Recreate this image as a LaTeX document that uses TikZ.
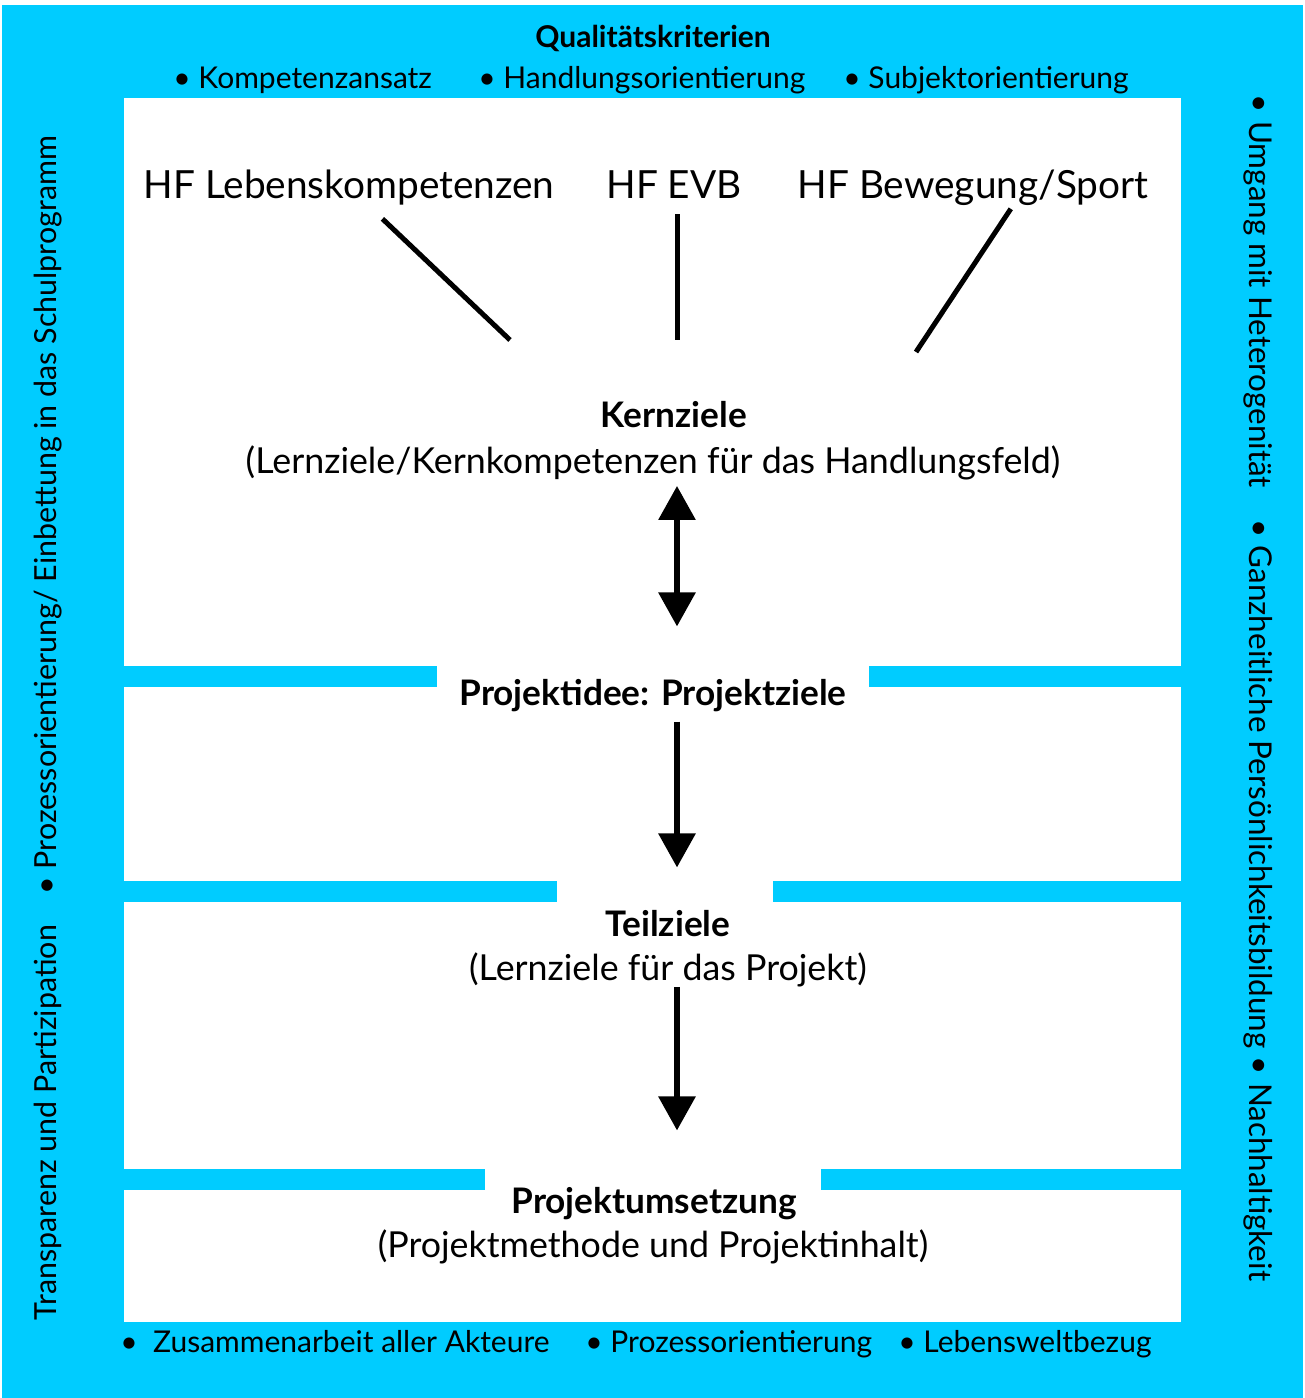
\documentclass[tikz,border=0pt]{standalone}
\usepackage{fontspec}
\setmainfont{Lato}
\usetikzlibrary{arrows.meta,positioning}
\definecolor{frame}{HTML}{00CCFF}
\tikzstyle{band}  =[fill=frame, draw=none]
\tikzstyle{hf}    =[font=\fontsize{19.4}{23}\selectfont, inner sep=0pt]
\tikzstyle{goal}  =[font=\fontsize{17.6}{21}\selectfont\bfseries, inner sep=0pt]
\tikzstyle{note}  =[font=\fontsize{17.9}{21}\selectfont, inner sep=0pt]
\tikzstyle{crit}  =[font=\fontsize{15}{18}\selectfont, inner sep=0pt]
\tikzstyle{link}  =[line width=2.5pt]
\tikzstyle{flow}  =[line width=3pt, -{Triangle[width=18pt,length=17pt]}]

\begin{document}
\begin{tikzpicture}[x=0.5pt, y=-0.5pt]
    \useasboundingbox (0,0) rectangle (1305,1398);
    \fill[white] (0,0) rectangle (1305,1398);
    \fill[band] (2,5) rectangle (1303,1398);
    \fill[white] (124,98) rectangle (1181,1322);
    % cut-through bands
    \foreach \y/\a/\b in {666/437/869, 881/557/773, 1169/485/821}{
        \fill[band] (124,\y) rectangle (\a,\y+21);
        \fill[band] (\b,\y) rectangle (1181,\y+21);
    }

    % frame texts
    \node[crit, font=\fontsize{15}{18}\selectfont\bfseries, anchor=base] (qk) at (653,47) {Qualitätskriterien};
    \node[crit, anchor=base west] (q1) at (173,88) {• Kompetenzansatz};
    \node[crit, anchor=base west] (q2) at (478,88) {• Handlungsorientierung};
    \node[crit, anchor=base west] (q3) at (843,88) {• Subjektorientierung};
    \node[crit, anchor=base west] (b1) at (120,1352) {•\ \ Zusammenarbeit aller Akteure};
    \node[crit, anchor=base west] (b2) at (585,1352) {• Prozessorientierung};
    \node[crit, anchor=base west] (b3) at (898,1352) {• Lebensweltbezug};
    \node[crit, font=\fontsize{15.2}{18}\selectfont, rotate=90] (left) at (48,728)
        {Transparenz und Partizipation\quad • Prozessorientierung/ Einbettung in das Schulprogramm};
    \node[crit, font=\fontsize{15.7}{18}\selectfont, rotate=-90] (right) at (1258,688)
        {• Umgang mit Heterogenität\quad • Ganzheitliche Persönlichkeitsbildung • Nachhaltigkeit};

    % fields of action
    \node[hf, anchor=base] (hfl) at (349,198) {HF Lebenskompetenzen};
    \node[hf, anchor=base] (hfe) at (674,198) {HF EVB};
    \node[hf, anchor=base] (hfb) at (973,198) {HF Bewegung/Sport};

    \coordinate (l1) at (510,340);
    \coordinate (l2) at (677,340);
    \coordinate (l3) at (916,352);
    \coordinate (ax) at (677,0);

    \draw[link, shorten <=10pt] (hfl) -- (l1);
    \draw[link, shorten <=8pt] (hfe.south -| l2) -- (l2);
    \draw[link, shorten <=2pt] ([xshift=20pt]hfb.south) -- (l3);

    % goals
    \node[goal, anchor=base] (kz) at (674,427) {Kernziele};
    \node[note, anchor=base] (kzs) at (653,473) {(Lernziele/Kernkompetenzen für das Handlungsfeld)};
    \node[goal, anchor=base] (pi) at (653,705) {Projektidee: Projektziele};
    \node[goal, anchor=base] (tz) at (668,936) {Teilziele};
    \node[note, anchor=base] (tzs) at (668,980) {(Lernziele für das Projekt)};
    \node[goal, anchor=base] (pu) at (654,1213) {Projektumsetzung};
    \node[note, anchor=base] (pus) at (653,1257) {(Projektmethode und Projektinhalt)};

    \draw[line width=3pt, {Triangle[width=18pt,length=17pt]}-{Triangle[width=18pt,length=17pt]},
        shorten <=3pt, shorten >=26pt] (kzs.south -| ax) -- (pi.north -| ax);
    \draw[flow, shorten <=5pt, shorten >=21pt] (pi.south -| ax) -- (tz.north -| ax);
    \draw[flow, shorten <=0pt, shorten >=28pt] (tzs.south -| ax) -- (pu.north -| ax);
\end{tikzpicture}
\end{document}
